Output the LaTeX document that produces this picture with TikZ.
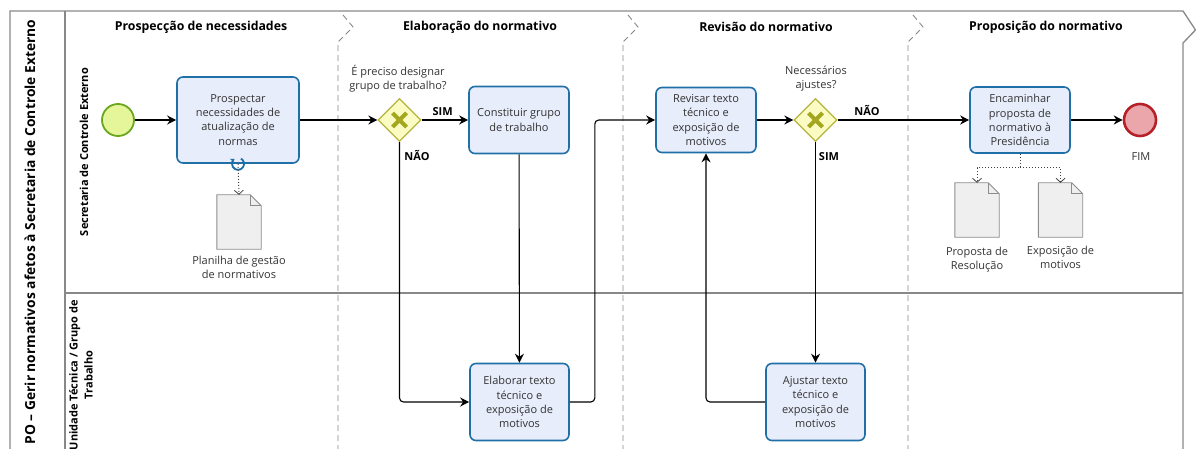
\documentclass[tikz,border=0pt]{standalone}
\usepackage{fontspec}
\setmainfont{Open Sans}
\usetikzlibrary{arrows.meta,shapes.geometric,calc}
\definecolor{taskfill}{HTML}{E8EDFB}
\definecolor{taskdraw}{HTML}{1F70A6}
\definecolor{gwfill}{HTML}{FBFBC4}
\definecolor{gwdraw}{HTML}{B5B53A}
\definecolor{gwx}{HTML}{A6A620}
\definecolor{startfill}{HTML}{E4F59A}
\definecolor{startdraw}{HTML}{6BA620}
\definecolor{endfill}{HTML}{EAA6AA}
\definecolor{enddraw}{HTML}{B52128}
\definecolor{docfill}{HTML}{EFEFEF}
\definecolor{docdraw}{HTML}{8C8C8C}
\definecolor{poolline}{HTML}{888888}
\definecolor{txt}{HTML}{333333}
\tikzset{
  pool/.style={draw=poolline, line width=1.3pt},
  phase/.style={draw=poolline, line width=0.9pt, dash pattern=on 6pt off 4pt},
  header/.style={font=\bfseries\fontsize{12.3}{14}\selectfont, text=black},
  task/.style={draw=taskdraw, fill=taskfill, line width=1.6pt, rounded corners=6pt,
    align=center, inner sep=2pt, text=txt, font=\fontsize{11}{14.2}\selectfont},
  gateway/.style={diamond, draw=gwdraw, fill=gwfill, line width=1.3pt, minimum width=43pt,
    minimum height=43pt, inner sep=0pt},
  startev/.style={circle, draw=startdraw, fill=startfill, line width=1.8pt, minimum size=32pt, inner sep=0pt},
  endev/.style={circle, draw=enddraw, fill=endfill, line width=2.6pt, minimum size=32pt, inner sep=0pt},
  docbox/.style={minimum width=44pt, minimum height=54pt, inner sep=0pt},
  docline/.style={draw=docdraw, fill=docfill, line width=0.9pt},
  lbl/.style={align=center, text=txt, font=\fontsize{11}{14.2}\selectfont},
  blbl/.style={text=black, font=\bfseries\fontsize{11}{13}\selectfont},
  flow/.style={draw=black, line width=1.1pt, rounded corners=4pt, -{Stealth[length=9pt,width=9pt]}},
  assoc/.style={draw=black!75, line width=1pt, dotted, -{Straight Barb[length=4pt,width=9pt,line width=0.8pt]}},
}
\begin{document}
\begin{tikzpicture}[x=1pt,y=-1pt]
\useasboundingbox (0,0) rectangle (1196,449);
% pool
\draw[pool] (10,449) -- (10,11) -- (1183,11) -- (1195.5,30) -- (1183,43) -- (1183,449);
\draw[pool] (65,11) -- (65,449);
\draw[pool] (65,293) -- (1183,293);
% phase separators
\foreach \px in {338,623,908}{
  \draw[phase] (\px+5,15) -- (\px+15,27) -- (\px,42) -- (\px,449);
}
% labels of pool and lanes
\node[rotate=90, font=\bfseries\fontsize{13.8}{16}\selectfont, text=black] (poollbl) at (30,232) {PO – Gerir normativos afetos à Secretaria de Controle Externo};
\node[rotate=90, font=\bfseries\fontsize{11}{13}\selectfont, text=black] (lane1) at (84,152) {Secretaria de Controle Externo};
\node[rotate=90, align=center, font=\bfseries\fontsize{11}{15}\selectfont, text=black] (lane2) at (81,375) {Unidade Técnica / Grupo de\\Trabalho};
% phase headers
\node[header] (h1) at (201,27) {Prospecção de necessidades};
\node[header] (h2) at (480,27) {Elaboração do normativo};
\node[header] (h3) at (766,27) {Revisão do normativo};
\node[header] (h4) at (1046,27) {Proposição do normativo};
% events
\node[startev] (s) at (118,120) {};
\node[endev] (e) at (1140,120) {};
\node[lbl] (fim) at (1141,157) {FIM};
% tasks
\node[task, minimum width=122pt, minimum height=86pt] (t1) at (238,120) {Prospectar\\necessidades de\\atualização de\\normas};
\node[task, minimum width=100pt, minimum height=67pt] (t2) at (519,120) {Constituir grupo\\de trabalho};
\node[task, minimum width=99pt, minimum height=77pt] (t3) at (519.5,402) {Elaborar texto\\técnico e\\exposição de\\motivos};
\node[task, minimum width=100pt, minimum height=65pt] (t4) at (706,120) {Revisar texto\\técnico e\\exposição de\\motivos};
\node[task, minimum width=99pt, minimum height=77pt] (t5) at (815.5,402) {Ajustar texto\\técnico e\\exposição de\\motivos};
\node[task, minimum width=100pt, minimum height=66pt] (t6) at (1020,120) {Encaminhar\\proposta de\\normativo à\\Presidência};
% loop marker
\draw[taskdraw, line width=1.8pt, -{Stealth[length=4pt,width=5.5pt]}] ($(t1.south)+(3,-5.2)$) arc[start angle=420, end angle=125, radius=6pt];
% gateways
\node[gateway] (g1) at (399.5,120) {};
\node[gateway] (g2) at (815.5,120) {};
\foreach \g in {g1,g2}{
  \draw[gwx, line width=4.2pt] ($(\g)+(-7,-7)$) -- ($(\g)+(7,7)$);
  \draw[gwx, line width=4.2pt] ($(\g)+(-7,7)$) -- ($(\g)+(7,-7)$);
}
\node[lbl] (q1) at (398,79) {É preciso designar\\grupo de trabalho?};
\node[lbl] (q2) at (816,78.5) {Necessários\\ajustes?};
% data objects
\node[docbox] (d1) at (239,222) {};
\node[docbox] (d2) at (977,210) {};
\node[docbox] (d3) at (1060.5,210) {};
\foreach \d in {d1,d2,d3}{
  \draw[docline] (\d.south west) -- (\d.north west) -- ($(\d.north east)+(-11,0)$) -- ($(\d.north east)+(0,11)$) -- (\d.south east) -- cycle;
  \draw[docline, fill=none] ($(\d.north east)+(-11,0)$) -- ($(\d.north east)+(-11,11)$) -- ($(\d.north east)+(0,11)$);
}
\node[lbl] (dl1) at (239,267) {Planilha de gestão\\de normativos};
\node[lbl] (dl2) at (977,259.5) {Proposta de\\Resolução};
\node[lbl] (dl3) at (1060.5,257) {Exposição de\\motivos};
% sequence flows
\draw[flow] (s) -- (t1);
\draw[flow] (t1) -- (g1);
\draw[flow] (g1) -- node[blbl, above, pos=0.45, yshift=1pt] (sim1) {SIM} (t2);
\draw[flow] (g1.south) |- (t3.west);
\node[blbl] (nao1) at (417,155) {NÃO};
\draw[flow] (t2) -- (t3);
\draw[flow] (t3.east) -- ++(25,0) |- (t4.west);
\draw[flow] (t4) -- (g2);
\draw[flow] (g2) -- (t6);
\node[blbl] (nao2) at (867,110) {NÃO};
\draw[flow] (g2) -- (t5);
\node[blbl] (sim2) at (829,157) {SIM};
\draw[flow] (t5.west) -| (t4.south);
\draw[flow] (t6) -- (e);
% associations
\draw[assoc] (t1.south) -- (d1.north);
\coordinate (split) at ($(t6.south)+(0,14)$);
\draw[assoc] (t6.south) -- (split) -| (d2.north);
\draw[assoc] (split) -| (d3.north);
\end{tikzpicture}
\end{document}
